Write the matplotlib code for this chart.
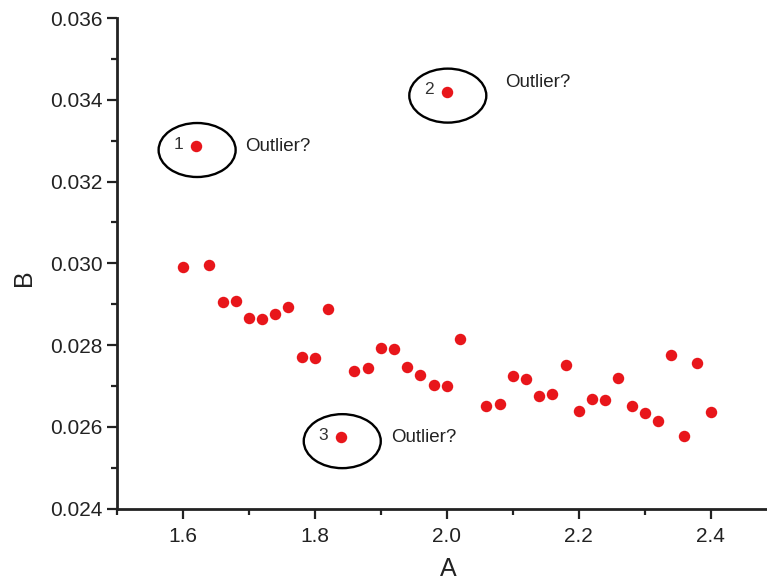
import matplotlib.pyplot as plt
from matplotlib.patches import Ellipse
from matplotlib.ticker import MultipleLocator

plt.rcParams['font.family'] = ['Liberation Sans', 'DejaVu Sans']

# main series
a_vals = [1.60, 1.64, 1.66, 1.68, 1.70, 1.72, 1.74, 1.76, 1.78, 1.80,
          1.82, 1.86, 1.88, 1.90, 1.92, 1.94, 1.96, 1.98, 2.00, 2.02,
          2.06, 2.08, 2.10, 2.12, 2.14, 2.16, 2.18, 2.20, 2.22, 2.24,
          2.26, 2.28, 2.30, 2.32, 2.34, 2.36, 2.38, 2.40]
b_vals = [0.02991, 0.02996, 0.02906, 0.02908, 0.02867, 0.02864, 0.02876,
          0.02894, 0.02772, 0.02768, 0.02889, 0.02737, 0.02745, 0.02794,
          0.02791, 0.02747, 0.02728, 0.02703, 0.02700, 0.02815, 0.02652,
          0.02655, 0.02725, 0.02717, 0.02676, 0.02681, 0.02751, 0.02639,
          0.02669, 0.02666, 0.02720, 0.02651, 0.02633, 0.02614, 0.02776,
          0.02577, 0.02757, 0.02637]

# suspected outliers
out_labels = ['1', '2', '3']
out_a = [1.62, 2.00, 1.84]
out_b = [0.03287, 0.03420, 0.02575]

fig = plt.figure(figsize=(7.67, 5.85), dpi=100)
ax = fig.add_axes([0.1525, 0.1304, 0.8475, 0.8388])

dot_color = '#e8161b'
ax.scatter(a_vals, b_vals, s=68, color=dot_color, zorder=3, linewidths=0)
ax.scatter(out_a, out_b, s=68, color=dot_color, zorder=3, linewidths=0)

# ellipses and labels around each outlier
px = 0.2 / 131.9
py = 0.002 / 81.8
text_dx = {'1': 49, '2': 58, '3': 50}
text_dy = {'1': 0, '2': 9, '3': 0}
for lab, xa, yb in zip(out_labels, out_a, out_b):
    ax.add_patch(Ellipse((xa + 1 * px, yb - 4 * py), 77 * px, 54 * py,
                         fill=False, edgecolor='black', lw=1.7, zorder=2))
    ax.text(xa - 18 * px, yb + 2 * py, lab, fontsize=12.5, color='#333333',
            ha='center', va='center')
    ax.text(xa + text_dx[lab] * px, yb + text_dy[lab] * py, 'Outlier?',
            fontsize=13.5, color='#222222', ha='left', va='center')

ax.set_xlim(1.5, 2.4854)
ax.set_ylim(0.024, 0.036)
ax.xaxis.set_major_locator(MultipleLocator(0.2))
ax.xaxis.set_minor_locator(MultipleLocator(0.1))
ax.yaxis.set_major_locator(MultipleLocator(0.002))
ax.yaxis.set_minor_locator(MultipleLocator(0.001))
ax.set_xticks([1.6, 1.8, 2.0, 2.2, 2.4])
ax.set_xticklabels(['1.6', '1.8', '2.0', '2.2', '2.4'])
ax.set_yticks([0.024, 0.026, 0.028, 0.030, 0.032, 0.034, 0.036])
ax.set_yticklabels(['0.024', '0.026', '0.028', '0.030', '0.032', '0.034',
                    '0.036'])

for side in ['top', 'right']:
    ax.spines[side].set_visible(False)
for side in ['left', 'bottom']:
    ax.spines[side].set_linewidth(2)
    ax.spines[side].set_color('#222222')

ax.tick_params(which='major', direction='out', length=7, width=1.6,
               labelsize=15, colors='#222222')
ax.tick_params(axis='x', which='major', pad=6)
ax.tick_params(which='minor', direction='out', length=4, width=1.6,
               colors='#222222')

ax.set_xlabel('A', fontsize=18, color='#222222')
ax.set_ylabel('B', fontsize=18, color='#222222')
ax.xaxis.set_label_coords(0.509, -0.098)
ax.yaxis.set_label_coords(-0.125, 0.47)

fig.savefig('out.png', dpi=100)
